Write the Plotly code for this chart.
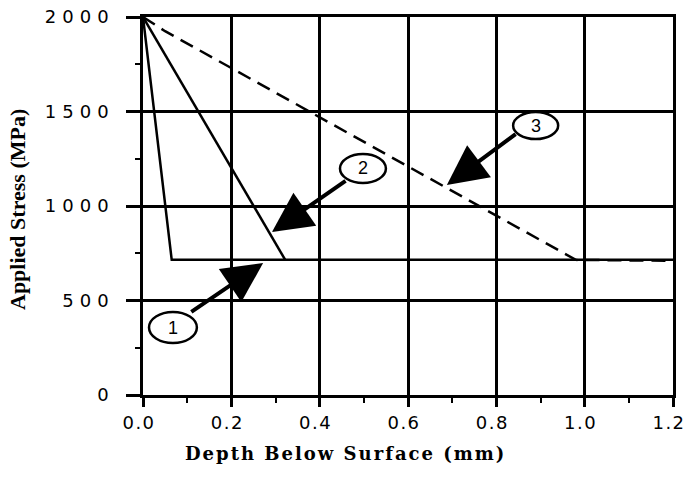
import plotly.graph_objects as go

# Data (depth in mm, stress in MPa)
curve1_x = [0.0, 0.065, 1.2]
curve1_y = [2000, 715, 715]
curve2_x = [0.0, 0.322]
curve2_y = [2000, 715]
curve3_x = [0.0, 0.05, 0.98, 1.2]
curve3_y = [2000, 1925, 715, 710]

x_ticks = [0.0, 0.2, 0.4, 0.6, 0.8, 1.0, 1.2]
x_tick_labels = ["0.0", "0.2", "0.4", "0.6", "0.8", "1.0", "1.2"]
y_ticks = [0, 500, 1000, 1500, 2000]
y_tick_labels = ["0", "500", "1000", "1500", "2000"]

labels = ["1", "2", "3"]

fig = go.Figure()
fig.add_trace(go.Scatter(x=curve1_x, y=curve1_y, mode="lines",
                         line=dict(color="black", width=2.5), showlegend=False))
fig.add_trace(go.Scatter(x=curve2_x, y=curve2_y, mode="lines",
                         line=dict(color="black", width=2.5), showlegend=False))
fig.add_trace(go.Scatter(x=curve3_x, y=curve3_y, mode="lines",
                         line=dict(color="black", width=2.5, dash="14px,8px"),
                         showlegend=False))

# Callout ellipses (data coords)
ellipses = [
    (0.0136, 0.122, 275, 439),
    (0.446, 0.550, 1122, 1275),
    (0.838, 0.940, 1354, 1497),
]
arrows = [
    # tip x, tip y, tail x, tail y
    (0.272, 698, 0.106, 434),
    (0.292, 862, 0.462, 1138),
    (0.688, 1111, 0.847, 1386),
]
for (x0, x1, y0, y1), lab in zip(ellipses, labels):
    fig.add_shape(type="circle", xref="x", yref="y", x0=x0, x1=x1, y0=y0, y1=y1,
                  line=dict(color="black", width=2.5), fillcolor="white", layer="above")
    fig.add_annotation(x=(x0 + x1) / 2, y=(y0 + y1) / 2, text=lab, showarrow=False,
                       font=dict(family="Liberation Sans", size=18, color="black"))
for tx, ty, ax, ay in arrows:
    fig.add_annotation(x=tx, y=ty, ax=ax, ay=ay, xref="x", yref="y", axref="x", ayref="y",
                       text="", showarrow=True, arrowhead=2, arrowsize=2.0,
                       arrowwidth=4, arrowcolor="black", standoff=0, startstandoff=0)

# Axis titles as annotations (indices 6 and 7)
fig.add_annotation(text="<b>Depth Below Surface (mm)</b>", xref="paper", yref="paper",
                   x=(345 - 143) / 530, y=-(453 - 395) / 378, showarrow=False,
                   font=dict(family="DejaVu Serif", size=18, color="black"),
                   xanchor="center", yanchor="middle")
fig.add_annotation(text="<b>Applied Stress (MPa)</b>", xref="paper", yref="paper",
                   x=-(143 - 17) / 530, y=(395 - 210) / 378, showarrow=False, textangle=-90,
                   font=dict(family="Liberation Serif", size=22, color="black"),
                   xanchor="center", yanchor="middle")

tick_font = dict(family="DejaVu Sans", size=18, color="black")
fig.update_xaxes(range=[0, 1.2], tickvals=x_ticks, ticktext=x_tick_labels,
                 showgrid=True, gridcolor="black", gridwidth=2.5, automargin=False,
                 showline=True, linecolor="black", linewidth=2.5, mirror=True,
                 ticks="outside", ticklen=9, tickwidth=2.5, tickcolor="black",
                 minor=dict(dtick=0.1, ticks="outside", ticklen=5, tickwidth=2, tickcolor="black", showgrid=False),
                 tickfont=tick_font, zeroline=False, ticklabelstandoff=1,
                 ticklabelshift=-4, ticklabeloverflow="allow")
fig.update_yaxes(range=[0, 2000], tickvals=y_ticks, ticktext=y_tick_labels,
                 showgrid=True, gridcolor="black", gridwidth=2.5, automargin=False,
                 showline=True, linecolor="black", linewidth=2.5, mirror=True,
                 ticks="outside", ticklen=14, tickwidth=2.5, tickcolor="black",
                 minor=dict(dtick=250, ticks="outside", ticklen=5, tickwidth=2, tickcolor="black", showgrid=False),
                 tickfont=tick_font, zeroline=False, ticklabelstandoff=8,
                 ticklabeloverflow="allow")

fig.update_layout(width=687, height=478, margin=dict(l=143, r=14, t=17, b=83),
                  plot_bgcolor="white", paper_bgcolor="white")

page_css = ("var s=document.createElement('style');"
            "s.textContent='body{margin:0} .xtick text{letter-spacing:1.5px} .ytick text{letter-spacing:6px}"
            " .annotation[data-index=\"6\"] text{letter-spacing:2px}';"
            "document.head.appendChild(s);")
fig.write_html("out.html", post_script=page_css, config={"displayModeBar": False})
